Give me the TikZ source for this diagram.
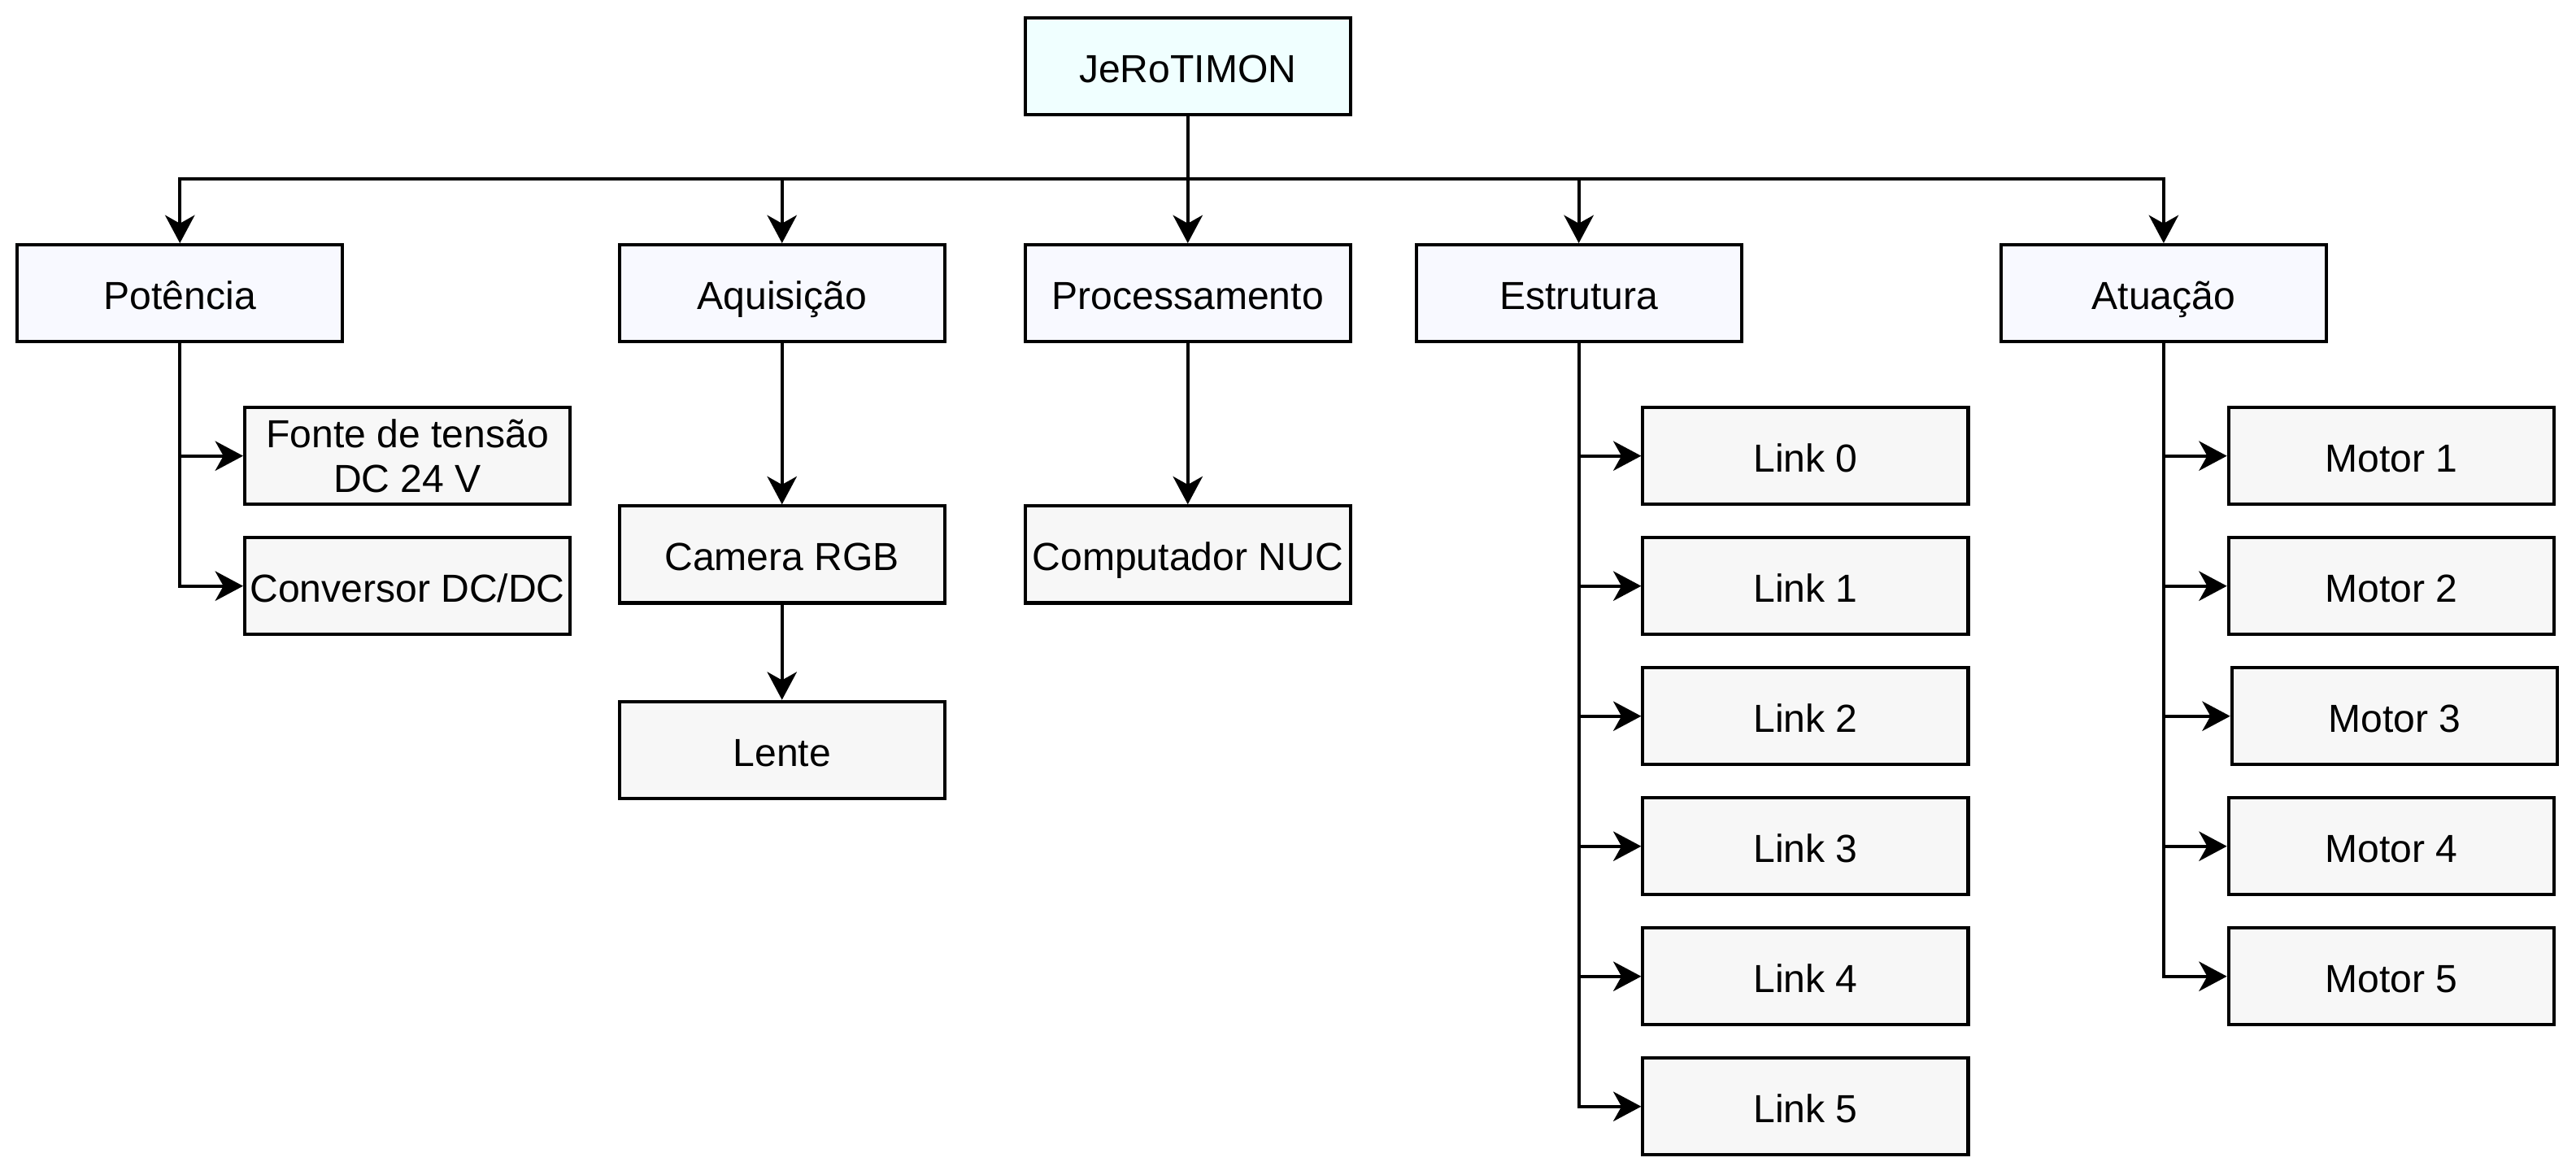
\documentclass[tikz,border=0pt]{standalone}
\usepackage{fontspec}
\setmainfont{Liberation Sans}
\usetikzlibrary{arrows.meta}
\definecolor{rootfill}{HTML}{F0FFFF}
\definecolor{midfill}{HTML}{F8F9FF}
\definecolor{leaffill}{HTML}{F7F7F7}
\tikzset{
  box/.style={draw=black, line width=2pt, minimum width=198pt, minimum height=59pt,
    inner sep=0pt, align=center, font=\fontsize{23.8}{27.5}\selectfont},
  oneline/.style={text height=19.6pt, text depth=0pt},
  rootbox/.style={box, oneline, fill=rootfill},
  midbox/.style={box, oneline, fill=midfill},
  leafbox/.style={box, oneline, fill=leaffill},
  arr/.style={draw=black, line width=2pt,
    -{Stealth[length=17pt, width=18pt, inset=5pt]}}
}
\begin{document}
\begin{tikzpicture}[x=1pt,y=-1pt]
\useasboundingbox (0,0) rectangle (1568,715);
% root
\node[rootbox] (root) at (723,40.5) {JeRoTIMON};
% second row
\node[midbox] (pot)  at (109.5,178.5) {Potência};
\node[midbox] (aq)   at (476,178.5) {Aquisição};
\node[midbox] (proc) at (723,178.5) {Processamento};
\node[midbox] (est)  at (961,178.5) {Estrutura};
\node[midbox] (atu)  at (1317,178.5) {Atuação};
\coordinate (bus) at (0,109);
% leaves
\node[box, fill=leaffill] (fonte) at (248,277.5) {\raisebox{-1.5pt}{\parbox{198pt}{\centering Fonte de tensão\\DC 24 V}}};
\node[leafbox] (conv)  at (248,356.7) {Conversor DC/DC};
\node[leafbox] (cam)   at (476,337.5) {Camera RGB};
\node[leafbox] (lente) at (476,456.5) {Lente};
\node[leafbox] (nuc)   at (723,337.5) {Computador NUC};
\node[leafbox] (l0) at (1099,277.5) {Link 0};
\node[leafbox] (l1) at (1099,356.7) {Link 1};
\node[leafbox] (l2) at (1099,435.9) {Link 2};
\node[leafbox] (l3) at (1099,515.1) {Link 3};
\node[leafbox] (l4) at (1099,594.3) {Link 4};
\node[leafbox] (l5) at (1099,673.5) {Link 5};
\node[leafbox] (m1) at (1455.5,277.5) {Motor 1};
\node[leafbox] (m2) at (1455.5,356.7) {Motor 2};
\node[leafbox] (m3) at (1457.5,435.9) {Motor 3};
\node[leafbox] (m4) at (1455.5,515.1) {Motor 4};
\node[leafbox] (m5) at (1455.5,594.3) {Motor 5};
% root edges
\draw[arr] (root.south) -- (root.south |- bus) -| (pot.north);
\draw[arr] (root.south) -- (root.south |- bus) -| (aq.north);
\draw[arr] (root.south) -- (proc.north);
\draw[arr] (root.south) -- (root.south |- bus) -| (est.north);
\draw[arr] (root.south) -- (root.south |- bus) -| (atu.north);
% Potência
\draw[arr] (pot.south) |- (fonte.west);
\draw[arr] (pot.south) |- (conv.west);
% Aquisição
\draw[arr] (aq.south) -- (cam.north);
\draw[arr] (cam.south) -- (lente.north);
% Processamento
\draw[arr] (proc.south) -- (nuc.north);
% Estrutura
\foreach \n in {l0,l1,l2,l3,l4,l5} \draw[arr] (est.south) |- (\n.west);
% Atuação
\foreach \n in {m1,m2,m3,m4,m5} \draw[arr] (atu.south) |- (\n.west);
\end{tikzpicture}
\end{document}
